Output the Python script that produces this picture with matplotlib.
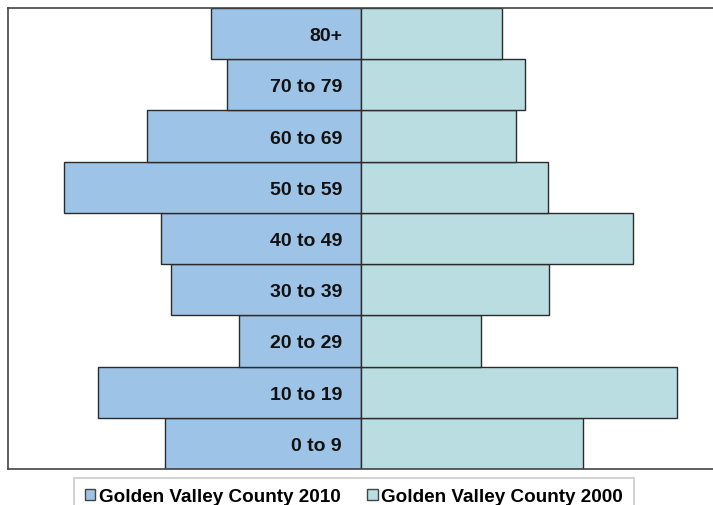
import numpy as np
import matplotlib.pyplot as plt
from matplotlib.patches import Patch

plt.rcParams['font.family'] = ['Liberation Sans', 'DejaVu Sans']

age_groups = ["0 to 9", "10 to 19", "20 to 29", "30 to 39", "40 to 49",
              "50 to 59", "60 to 69", "70 to 79", "80+"]
pop_2010 = [196, 263, 122, 190, 200, 297, 214, 134, 150]
pop_2000 = [222, 316, 120, 188, 272, 187, 155, 164, 141]

c2010 = "#9dc3e6"
c2000 = "#b9dde1"
edge = "#2b2b2b"

fig = plt.figure(figsize=(7.13, 5.06), dpi=100)
ax = fig.add_axes([7.5 / 713, 36 / 506, 1 - 7.5 / 713, 461 / 506])

y = np.arange(len(age_groups))
ax.barh(y, -np.array(pop_2010), height=1.0, color=c2010, edgecolor=edge, linewidth=1)
ax.barh(y, pop_2000, height=1.0, color=c2000, edgecolor=edge, linewidth=1)

for yi, lab in zip(y, age_groups):
    ax.text(-19, yi, lab, ha="right", va="center_baseline", fontsize=14,
            fontweight="bold", color="#111111")

ax.set_xlim(-353.5, 352)
ax.set_ylim(-0.5, len(age_groups) - 0.5)
ax.set_xticks([])
ax.set_yticks([])
for side in ["top", "left", "bottom"]:
    ax.spines[side].set_color("#444444")
    ax.spines[side].set_linewidth(1.2)
ax.spines["right"].set_visible(False)

handles = [Patch(facecolor=c2010, edgecolor="#444444", label="Golden Valley County 2010"),
           Patch(facecolor=c2000, edgecolor="#444444", label="Golden Valley County 2000")]
leg = fig.legend(handles=handles, loc="upper center", bbox_to_anchor=(354 / 713, 1 - 479 / 506),
                 ncol=2, frameon=True, fancybox=False, edgecolor="#c8c8c8",
                 prop={"weight": "bold", "size": 13.6}, handlelength=0.55, handleheight=0.55,
                 handletextpad=0.2, columnspacing=1.4, borderpad=0.55, borderaxespad=0)
leg.get_frame().set_linewidth(1.5)

fig.savefig("out.png", dpi=100)
